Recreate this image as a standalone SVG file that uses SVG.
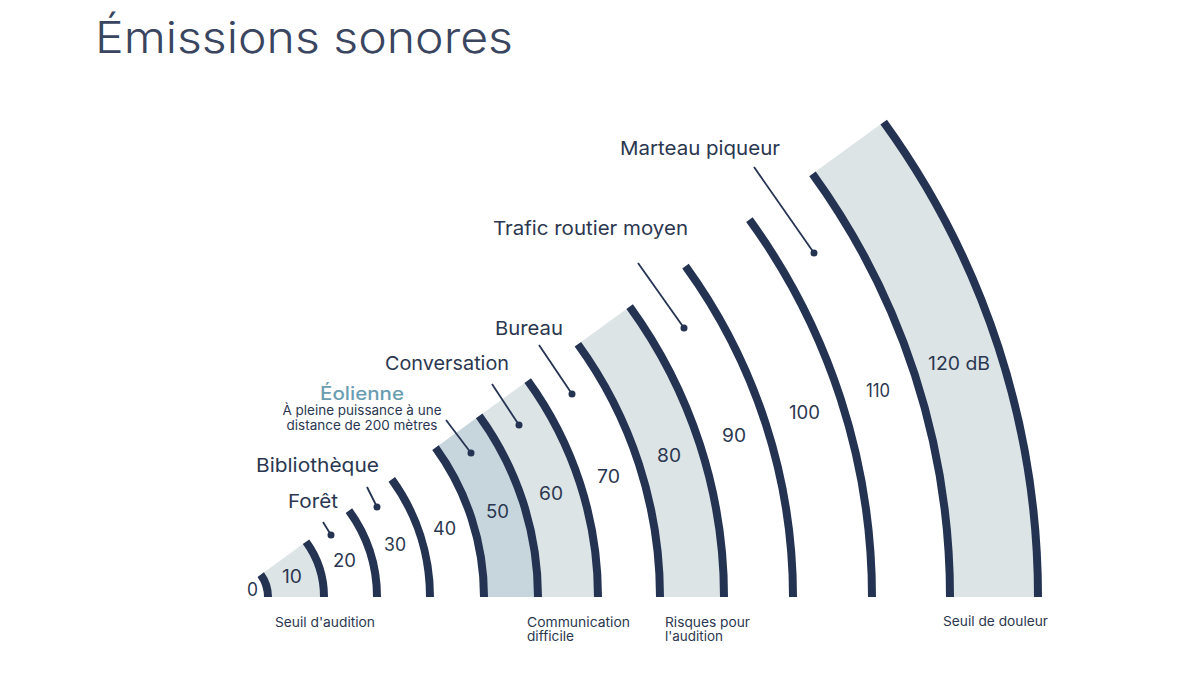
<svg xmlns="http://www.w3.org/2000/svg" width="1200" height="675" viewBox="0 0 1200 675">
<style>
.arc{fill:none;stroke:#243352;stroke-width:8;stroke-linecap:butt}
.band{fill:#dde4e6}
.band2{fill:#c7d5dd}
.t{font-family:Inter,"Noto Sans","Liberation Sans",sans-serif;fill:#2b3750}
.title{font-size:44px;font-weight:300;fill:#3a4560}
.lab{font-size:19px;font-weight:400}
.num{font-size:18px;font-weight:400}
.small{font-size:13px;font-weight:400}
.eol{font-size:18px;font-weight:500;fill:#6b9db2}
.lead{stroke:#243352;stroke-width:1.8;fill:none}
.dot{fill:#243352}
</style>
<rect width="1200" height="675" fill="#ffffff"/>
<text class="t title" x="95" y="53" textLength="418" lengthAdjust="spacingAndGlyphs">Émissions sonores</text>
<g id="bands">
<path class="band" d="M268,597 A38,38 0 0 0 260.74,574.66 L306.05,541.75 A94,94 0 0 1 324,597 Z"/>
<path class="band2" d="M484,597 A254,254 0 0 0 435.49,447.70 L479.18,415.96 A308,308 0 0 1 538,597 Z"/>
<path class="band" d="M538,597 A308,308 0 0 0 479.18,415.96 L527.72,380.69 A368,368 0 0 1 598,597 Z"/>
<path class="band" d="M660,597 A430,430 0 0 0 577.88,344.25 L629.66,306.63 A494,494 0 0 1 724,597 Z"/>
<path class="band" d="M950,597 A720,720 0 0 0 812.49,173.79 L883.69,122.07 A808,808 0 0 1 1038,597 Z"/>
</g>
<g id="arcs">
<path id="arc0" class="arc" d="M268,597 A38,38 0 0 0 260.74,574.66"/>
<path id="arc10" class="arc" d="M324,597 A94,94 0 0 0 306.05,541.75"/>
<path id="arc20" class="arc" d="M377,597 A147,147 0 0 0 348.93,510.60"/>
<path id="arc30" class="arc" d="M430,597 A200,200 0 0 0 391.80,479.44"/>
<path id="arc40" class="arc" d="M484,597 A254,254 0 0 0 435.49,447.70"/>
<path id="arc50" class="arc" d="M538,597 A308,308 0 0 0 479.18,415.96"/>
<path id="arc60" class="arc" d="M598,597 A368,368 0 0 0 527.72,380.69"/>
<path id="arc70" class="arc" d="M660,597 A430,430 0 0 0 577.88,344.25"/>
<path id="arc80" class="arc" d="M724,597 A494,494 0 0 0 629.66,306.63"/>
<path id="arc90" class="arc" d="M793,597 A563,563 0 0 0 685.48,266.08"/>
<path id="arc100" class="arc" d="M872,597 A642,642 0 0 0 749.39,219.64"/>
<path id="arc110" class="arc" d="M950,597 A720,720 0 0 0 812.49,173.79"/>
<path id="arc120" class="arc" d="M1038,597 A808,808 0 0 0 883.69,122.07"/>
</g>
<g id="numbers">
<text class="t num" x="247" y="596" textLength="11" lengthAdjust="spacingAndGlyphs">0</text>
<text class="t num" x="282" y="583" textLength="20" lengthAdjust="spacingAndGlyphs">10</text>
<text class="t num" x="333" y="567" textLength="23" lengthAdjust="spacingAndGlyphs">20</text>
<text class="t num" x="384" y="551" textLength="22" lengthAdjust="spacingAndGlyphs">30</text>
<text class="t num" x="433" y="535" textLength="23" lengthAdjust="spacingAndGlyphs">40</text>
<text class="t num" x="486" y="518" textLength="23" lengthAdjust="spacingAndGlyphs">50</text>
<text class="t num" x="539" y="500" textLength="24" lengthAdjust="spacingAndGlyphs">60</text>
<text class="t num" x="597" y="483" textLength="23" lengthAdjust="spacingAndGlyphs">70</text>
<text class="t num" x="657" y="462" textLength="24" lengthAdjust="spacingAndGlyphs">80</text>
<text class="t num" x="722" y="442" textLength="24" lengthAdjust="spacingAndGlyphs">90</text>
<text class="t num" x="789" y="419" textLength="31" lengthAdjust="spacingAndGlyphs">100</text>
<text class="t num" x="866" y="397" textLength="24" lengthAdjust="spacingAndGlyphs">110</text>
<text class="t num" x="928" y="370" textLength="62" lengthAdjust="spacingAndGlyphs">120 dB</text>
</g>
<g id="connectors">
<line class="lead" x1="323" y1="522" x2="331" y2="535"/><circle class="dot" cx="331" cy="535" r="3.5"/>
<line class="lead" x1="367" y1="487" x2="377" y2="507"/><circle class="dot" cx="377" cy="507" r="3.5"/>
<line class="lead" x1="446" y1="420" x2="471" y2="453"/><circle class="dot" cx="471" cy="453" r="3.5"/>
<line class="lead" x1="492" y1="384" x2="519" y2="425"/><circle class="dot" cx="519" cy="425" r="3.5"/>
<line class="lead" x1="539" y1="345" x2="572" y2="394"/><circle class="dot" cx="572" cy="394" r="3.5"/>
<line class="lead" x1="638" y1="263" x2="684" y2="328"/><circle class="dot" cx="684" cy="328" r="3.5"/>
<line class="lead" x1="754" y1="167" x2="814" y2="253"/><circle class="dot" cx="814" cy="253" r="3.5"/>
</g>
<g id="label-marteau"><text class="t lab" x="620" y="155" textLength="160" lengthAdjust="spacingAndGlyphs">Marteau piqueur</text></g>
<g id="label-trafic"><text class="t lab" x="493" y="235" textLength="195" lengthAdjust="spacingAndGlyphs">Trafic routier moyen</text></g>
<g id="label-bureau"><text class="t lab" x="495" y="335" textLength="68" lengthAdjust="spacingAndGlyphs">Bureau</text></g>
<g id="label-conversation"><text class="t lab" x="385" y="370" textLength="124" lengthAdjust="spacingAndGlyphs">Conversation</text></g>
<g id="label-eolienne">
<text class="t eol" x="320" y="400" textLength="84" lengthAdjust="spacingAndGlyphs">Éolienne</text>
<text class="t small" x="362" y="415" text-anchor="middle" textLength="159" lengthAdjust="spacingAndGlyphs">À pleine puissance à une</text>
<text class="t small" x="362" y="430" text-anchor="middle" textLength="151" lengthAdjust="spacingAndGlyphs">distance de 200 mètres</text>
</g>
<g id="label-bibliotheque"><text class="t lab" x="256" y="472" textLength="123" lengthAdjust="spacingAndGlyphs">Bibliothèque</text></g>
<g id="label-foret"><text class="t lab" x="288" y="508" textLength="50" lengthAdjust="spacingAndGlyphs">Forêt</text></g>
<g id="bottom-labels">
<text class="t small" x="275" y="627" textLength="100" lengthAdjust="spacingAndGlyphs">Seuil d'audition</text>
<text class="t small" x="527" y="627" textLength="103" lengthAdjust="spacingAndGlyphs">Communication</text>
<text class="t small" x="527" y="641" textLength="47" lengthAdjust="spacingAndGlyphs">difficile</text>
<text class="t small" x="665" y="627" textLength="85" lengthAdjust="spacingAndGlyphs">Risques pour</text>
<text class="t small" x="665" y="641" textLength="58" lengthAdjust="spacingAndGlyphs">l'audition</text>
<text class="t small" x="943" y="626" textLength="105" lengthAdjust="spacingAndGlyphs">Seuil de douleur</text>
</g>
</svg>
